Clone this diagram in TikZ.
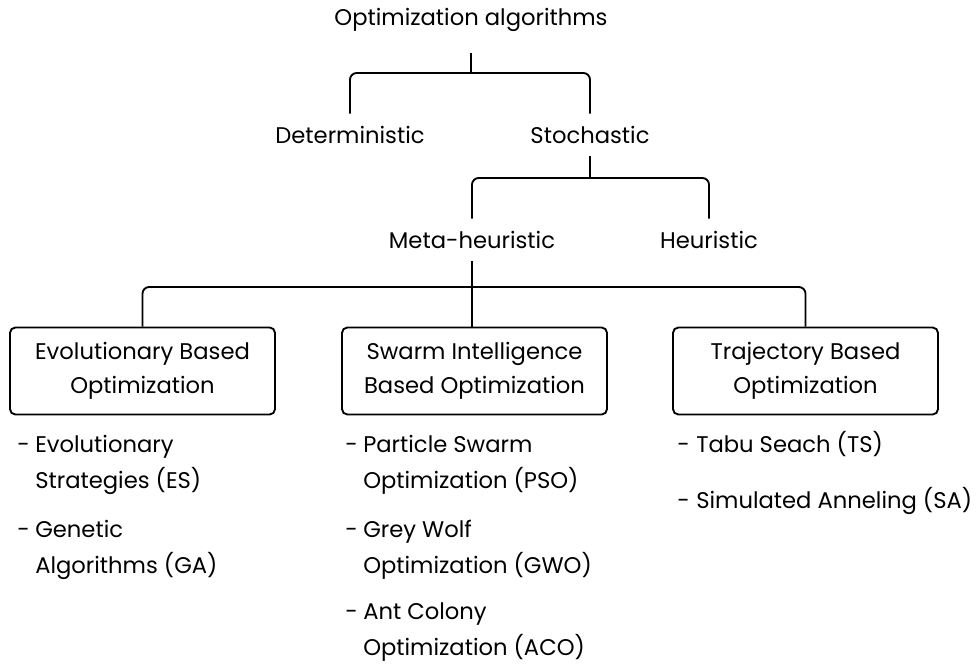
\documentclass[tikz,border=0pt]{standalone}
\usepackage{fontspec}
\setmainfont{Poppins}
\begin{document}
\begin{tikzpicture}[x=0.75pt,y=-0.75pt,
  txt/.style={inner sep=0pt, font=\fontsize{17}{25.5}\selectfont, align=center},
  lbl/.style={txt, minimum height=31.5pt},
  catbox/.style={txt, draw, line width=1.4pt, rounded corners=4pt,
                 minimum width=198.75pt, minimum height=65.25pt},
  item/.style={txt, font=\fontsize{17}{27}\selectfont, align=left,
               anchor=base west},
  bullet/.style={txt, anchor=base west},
  conn/.style={line width=1.4pt, rounded corners=5pt}]
\useasboundingbox (0,0) rectangle (978,666);

% tree labels
\node[txt, minimum height=49.5pt] (root) at (471,20) {Optimization algorithms};
\node[lbl] (det) at (350,135) {Deterministic};
\node[lbl] (sto) at (590,135) {Stochastic};
\node[lbl] (meta) at (472,240) {Meta-heuristic};
\node[lbl] (heu) at (709,240) {Heuristic};

% category boxes
\node[catbox] (evo) at (142.5,371) {Evolutionary Based\\Optimization};
\node[catbox] (swa) at (474.5,371) {Swarm Intelligence\\Based Optimization};
\node[catbox] (tra) at (805.5,371) {Trajectory Based\\Optimization};

% junction points
\coordinate (j1) at (471,73);
\coordinate (j2) at (590,178);
\coordinate (j3) at (472,287);

% connectors
\draw[conn] (root.south) -- (j1);
\draw[conn] (det.north) |- (j1) -| (sto.north);
\draw[conn] (sto.south) -- (j2);
\draw[conn] (meta.north) |- (j2) -| (heu.north);
\draw[conn] (meta.south) -- (meta.south |- swa.north);
\draw[conn] (evo.north) |- (j3) -| (tra.north);

% evolutionary methods (items anchored at the baseline of their last line)
\node[bullet] (d1) at (17,452) {-};
\node[item] (e1) at (35,488) {Evolutionary\\Strategies (ES)};
\node[bullet] (d2) at (17,537) {-};
\node[item] (e2) at (35,573) {Genetic\\Algorithms (GA)};

% swarm methods
\node[bullet] (d3) at (345,452) {-};
\node[item] (s1) at (363,488) {Particle Swarm\\Optimization (PSO)};
\node[bullet] (d4) at (345,537) {-};
\node[item] (s2) at (363,573) {Grey Wolf\\Optimization (GWO)};
\node[bullet] (d5) at (345,619) {-};
\node[item] (s3) at (363,655) {Ant Colony\\Optimization (ACO)};

% trajectory methods
\node[bullet] (d6) at (677,452) {-};
\node[item] (t1) at (696,452) {Tabu Seach (TS)};
\node[bullet] (d7) at (677,508) {-};
\node[item] (t2) at (696,508) {Simulated Anneling (SA)};
\end{tikzpicture}
\end{document}
